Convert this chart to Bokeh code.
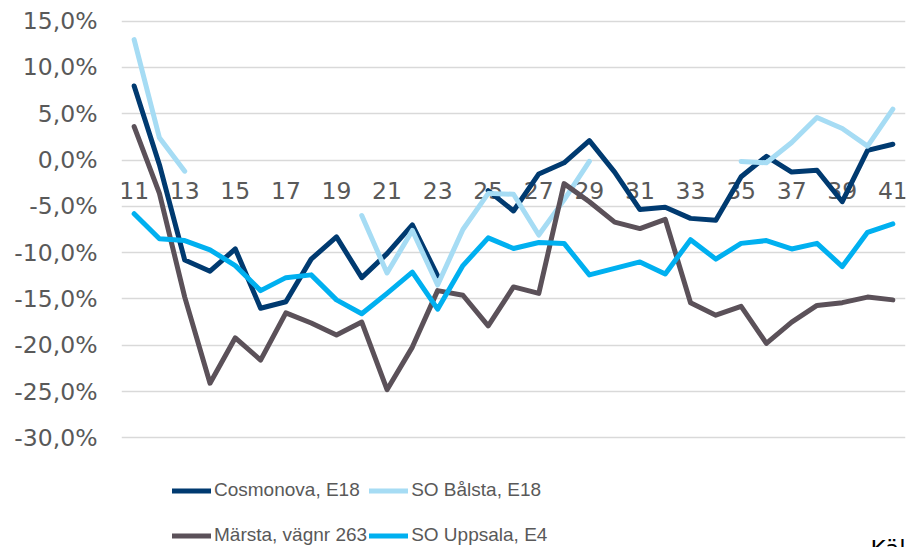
import numpy as np
from bokeh.plotting import figure
from bokeh.models import Range1d, FixedTicker, Legend, LegendItem, Label
from bokeh.core.properties import value
from bokeh.embed import file_html
from bokeh.resources import INLINE

# ---- data -------------------------------------------------------------
weeks = list(range(11, 42))
week_ticks = list(range(11, 42, 2))
week_tick_labels = [str(w) for w in week_ticks]

y_ticks = [-30, -25, -20, -15, -10, -5, 0, 5, 10, 15]
y_tick_labels = ["-30,0%", "-25,0%", "-20,0%", "-15,0%", "-10,0%",
                 "-5,0%", "0,0%", "5,0%", "10,0%", "15,0%"]

series_names = ["Cosmonova, E18", "SO Bålsta, E18",
                "Märsta, vägnr 263", "SO Uppsala, E4"]

cosmonova = [8.0, -0.5, -10.8, -12.0, -9.6, -16.0, -15.3, -10.7, -8.3, -12.7,
             -10.1, -7.0, -12.5, None, -3.3, -5.5, -1.5, -0.3, 2.1, -1.3,
             -5.35, -5.1, -6.3, -6.5, -1.8, 0.4, -1.3, -1.1, -4.5, 1.05, 1.7]
balsta = [13.0, 2.4, -1.2, None, None, None, None, None, None, -6.0,
          -12.2, -7.6, -13.5, -7.5, -3.6, -3.7, -8.1, -4.3, -0.15, None,
          None, None, None, None, -0.15, -0.3, 1.9, 4.6, 3.4, 1.5, 5.5]
marsta = [3.6, -3.6, -14.8, -24.1, -19.2, -21.6, -16.5, -17.6, -18.9, -17.5,
          -24.8, -20.2, -14.1, -14.6, -17.9, -13.7, -14.4, -2.55, -4.5, -6.7,
          -7.4, -6.4, -15.4, -16.75, -15.8, -19.8, -17.5, -15.7, -15.4, -14.8, -15.1]
uppsala = [-5.8, -8.5, -8.7, -9.7, -11.4, -14.1, -12.7, -12.4, -15.1, -16.6,
           -14.4, -12.1, -16.1, -11.4, -8.4, -9.55, -8.9, -9.0, -12.4, -11.7,
           -11.0, -12.3, -8.6, -10.7, -9.0, -8.7, -9.6, -9.0, -11.5, -7.8, -6.9]

series_values = [cosmonova, balsta, marsta, uppsala]
series_colors = ["#003A70", "#A6DCF4", "#5B5159", "#00B0F0"]
source_text = "Källa:"

# ---- figure -----------------------------------------------------------
p = figure(width=908, height=547, output_backend="svg", toolbar_location=None,
           x_range=Range1d(10.5, 41.5), y_range=Range1d(-41.84, 15.5),
           x_axis_type=None,
           min_border_left=121, min_border_right=3,
           min_border_top=16, min_border_bottom=0)
p.outline_line_color = None
p.background_fill_color = "white"
p.border_fill_color = "white"

p.xgrid.visible = False
p.ygrid.ticker = FixedTicker(ticks=y_ticks)
p.ygrid.grid_line_color = "#D9D9D9"
p.ygrid.grid_line_width = 1.5

# y axis
yax = p.yaxis[0]
yax.ticker = FixedTicker(ticks=y_ticks)
yax.major_label_overrides = {t: l for t, l in zip(y_ticks, y_tick_labels)}
yax.axis_line_color = None
yax.major_tick_line_color = None
yax.minor_tick_line_color = None
yax.major_tick_out = 0
yax.major_label_standoff = 24
yax.major_label_text_font = "DejaVu Sans"
yax.major_label_text_font_size = "23.5px"
yax.major_label_text_color = "#595959"

# category labels sitting under the zero line (drawn below the series)
p.text(x=week_ticks, y=[0] * len(week_ticks), text=week_tick_labels,
       text_align="center", text_baseline="top", y_offset=22,
       text_font=value("DejaVu Sans"), text_font_size="23.5px",
       text_color="#595959")

renderers = []
for vals, col in zip(series_values, series_colors):
    y = np.array([np.nan if v is None else v for v in vals], dtype=float)
    r = p.line(x=weeks, y=y, line_color=col, line_width=5,
               line_cap="round", line_join="round")
    renderers.append(r)

legend = Legend(
    items=[LegendItem(label=n, renderers=[r]) for n, r in zip(series_names, renderers)],
    location=(51, -9.5), orientation="horizontal", ncols=2,
    glyph_width=39, glyph_height=43, label_height=43, label_standoff=3,
    spacing=2, padding=0, margin=0,
    border_line_color=None, background_fill_alpha=0,
    label_text_font="Liberation Sans", label_text_font_size="19px",
    label_text_color="#595959")
p.add_layout(legend, "center")

p.add_layout(Label(x=749, y=12, x_units="screen", y_units="screen",
                   text=source_text, text_baseline="top",
                   text_font="DejaVu Sans", text_font_size="23px",
                   text_color="#000000"))

open("out.html", "w").write(file_html(p, INLINE))
